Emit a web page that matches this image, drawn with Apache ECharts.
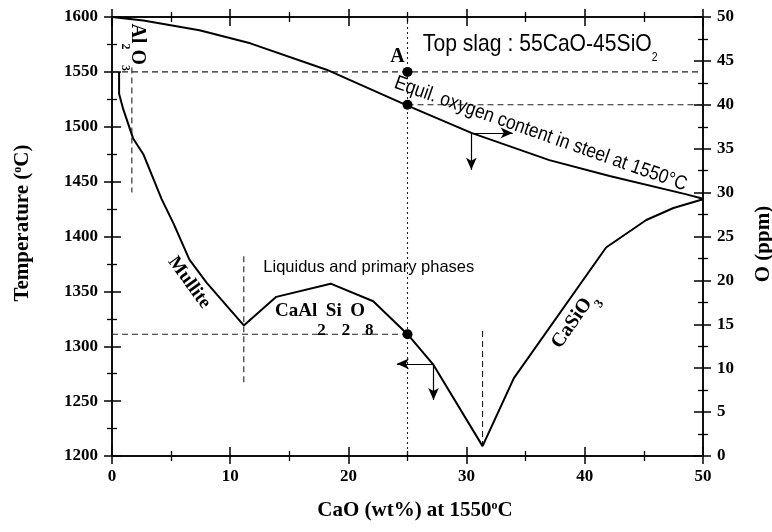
<!DOCTYPE html>
<html>
<head>
<meta charset="utf-8">
<script src="https://cdn.jsdelivr.net/npm/echarts@6/dist/echarts.min.js"></script>
<style>
  html, body { margin: 0; padding: 0; background: #fff; }
  #chart { width: 772px; height: 532px; }
</style>
</head>
<body>
<div id="chart"></div>
<script>
// Liquidus of the slag: CaO content (wt%) against liquidus temperature (°C)
const liquidusCaO = [0.6, 0.6, 0.95, 1.8, 2.65, 4.2, 5.2, 6.55, 8.0, 11.15, 13.9, 18.5, 22.1, 25.0, 27.2, 31.35, 34.0, 41.8, 45.2, 47.5, 50];
const liquidusT   = [1550, 1530, 1516, 1489, 1475, 1434, 1412, 1379, 1358, 1319, 1345, 1357, 1341, 1311, 1283, 1209, 1271, 1390, 1415, 1426, 1434];

// Equilibrium oxygen content in steel at 1550 °C (ppm)
const oxygenCaO = [0, 2.65, 7.4, 11.7, 18.15, 25, 30.4, 37, 42.1, 48.6, 50];
const oxygenPpm = [50, 49.6, 48.5, 47.0, 44.0, 39.9, 36.8, 33.7, 31.9, 29.8, 29.3];

// Tick values of the three scales
const caoTicks  = [0, 10, 20, 30, 40, 50];
const tempTicks = [1200, 1250, 1300, 1350, 1400, 1450, 1500, 1550, 1600];
const ppmTicks  = [0, 5, 10, 15, 20, 25, 30, 35, 40, 45, 50];

// Guide lines (temperature scale unless noted)
const guideT1550     = [[0, 1550], [50, 1550]];
const guideO40       = [[25, 40], [50, 40]];          // ppm scale
const guideAl2O3     = [[1.68, 1554], [1.68, 1440]];
const guideMullite   = [[11.15, 1382], [11.15, 1267]];
const guideT1311     = [[0, 1311], [25, 1311]];
const guideEutectic  = [[31.35, 1314], [31.35, 1210]];
const guideCaO25     = [[25, 1600], [25, 1200]];

// Marked states at 25 wt% CaO
const pointsT = [[25, 1550], [25, 1311]];
const pointsO = [[25, 40]];

// Reading arrows: start, horizontal end, vertical end
const arrowOxygen   = { start: [30.4, 36.8], xEnd: 33.9, yEnd: 32.6 };
const arrowLiquidus = { start: [27.2, 1284], xEnd: 24.1, yEnd: 1251 };

const serif = '"Liberation Serif", "Times New Roman", serif';
const sans  = '"Liberation Sans", Arial, sans-serif';
const ink = '#000';

const chart = echarts.init(document.getElementById('chart'), null, { renderer: 'canvas' });

function zip(xs, ys) { return xs.map((x, i) => [x, ys[i]]); }

function makeAxis(ticks, position, inside, extra) {
  return Object.assign({
    type: 'value',
    position: position,
    min: ticks[0],
    max: ticks[ticks.length - 1],
    interval: ticks[1] - ticks[0],
    axisLine: { show: true, onZero: false, lineStyle: { color: ink, width: 1.5 } },
    axisTick: { show: true, inside: inside, length: inside ? 9 : 8, lineStyle: { color: ink, width: 1.5 } },
    minorTick: { show: true, splitNumber: 2, length: 5, lineStyle: { color: ink, width: 1.3 } },
    axisLabel: { show: false },
    splitLine: { show: false },
    minorSplitLine: { show: false }
  }, extra || {});
}

const tickLabel = (margin) => ({
  show: true, margin: margin, color: ink,
  fontFamily: serif, fontWeight: 'bold', fontSize: 17,
  formatter: (v) => String(v)
});

const titleRich = {
  t:   { fontFamily: serif, fontWeight: 'bold', fontSize: 21, lineHeight: 22, color: ink },
  sup: { fontFamily: serif, fontWeight: 'bold', fontSize: 12, lineHeight: 12, verticalAlign: 'top', color: ink }
};

const guideStyle  = { color: '#222', width: 1.1, type: [6, 4] };
const dottedStyle = { color: '#222', width: 1.1, type: [2, 3] };

function guide(name, data, yIndex, style) {
  return {
    name: name, type: 'line', xAxisIndex: 0, yAxisIndex: yIndex,
    data: data, symbol: 'none', silent: true, z: 2,
    lineStyle: style
  };
}

function arrows(a) {
  return {
    silent: true,
    symbol: ['none', 'arrow'],
    symbolSize: [8, 12],
    lineStyle: { color: ink, width: 1.2, type: 'solid' },
    label: { show: false },
    emphasis: { disabled: true },
    data: [
      [{ coord: a.start }, { coord: [a.xEnd, a.start[1]] }],
      [{ coord: a.start }, { coord: [a.start[0], a.yEnd] }]
    ]
  };
}

chart.setOption({
  animation: false,
  backgroundColor: '#fff',
  grid: { left: 112, right: 69, top: 17, bottom: 76, containLabel: false, outerBoundsMode: 'none' },
  xAxis: [
    makeAxis(caoTicks, 'bottom', false, {
      axisLabel: tickLabel(12),
      name: '{t|CaO (wt%) at 1550}{sup|o}{t|C}',
      nameLocation: 'middle', nameGap: 44,
      nameTextStyle: { rich: titleRich, padding: [0, 0, 0, 15] }
    }),
    makeAxis(caoTicks, 'bottom', true),
    makeAxis(caoTicks, 'top', false),
    makeAxis(caoTicks, 'top', true)
  ],
  yAxis: [
    makeAxis(tempTicks, 'left', false, {
      axisLabel: tickLabel(14),
      name: '{t|Temperature (}{sup|o}{t|C)}',
      nameLocation: 'middle', nameRotate: 90, nameGap: 78,
      nameTextStyle: { rich: titleRich, padding: [0, 0, 0, 27] }
    }),
    makeAxis(tempTicks, 'left', true),
    makeAxis(ppmTicks, 'right', false, {
      axisLabel: tickLabel(14),
      name: '{t|O (ppm)}',
      nameLocation: 'middle', nameRotate: 90, nameGap: 50,
      nameTextStyle: { rich: titleRich, padding: [0, 15, 0, 0] }
    }),
    makeAxis(ppmTicks, 'right', true)
  ],
  series: [
    guide('T 1550', guideT1550, 0, guideStyle),
    guide('O 40', guideO40, 2, guideStyle),
    guide('Al2O3 limit', guideAl2O3, 0, guideStyle),
    guide('Mullite limit', guideMullite, 0, guideStyle),
    guide('T 1311', guideT1311, 0, guideStyle),
    guide('Eutectic', guideEutectic, 0, guideStyle),
    guide('CaO 25', guideCaO25, 0, dottedStyle),
    {
      name: 'Liquidus', type: 'line', xAxisIndex: 0, yAxisIndex: 0,
      data: zip(liquidusCaO, liquidusT), symbol: 'none', z: 3,
      lineStyle: { color: ink, width: 2 },
      markLine: arrows(arrowLiquidus)
    },
    {
      name: 'Equilibrium O', type: 'line', xAxisIndex: 0, yAxisIndex: 2,
      data: zip(oxygenCaO, oxygenPpm), symbol: 'none', z: 3,
      lineStyle: { color: ink, width: 2 },
      markLine: arrows(arrowOxygen)
    },
    {
      name: 'States T', type: 'scatter', xAxisIndex: 0, yAxisIndex: 0,
      data: pointsT, symbol: 'circle', symbolSize: 10, z: 4,
      itemStyle: { color: ink, opacity: 1 }
    },
    {
      name: 'States O', type: 'scatter', xAxisIndex: 0, yAxisIndex: 2,
      data: pointsO, symbol: 'circle', symbolSize: 10, z: 4,
      itemStyle: { color: ink, opacity: 1 }
    }
  ]
});

// Text annotations, anchored in data space
function at(x, y, yIndex) {
  return chart.convertToPixel({ xAxisIndex: 0, yAxisIndex: yIndex }, [x, y]);
}

function note(text, anchor, yIndex, opts) {
  const p = at(anchor[0], anchor[1], yIndex);
  return {
    type: 'text',
    x: p[0], y: p[1],
    rotation: opts.rotation || 0,
    scaleX: opts.scaleX || 1,
    z: 10,
    silent: true,
    style: Object.assign({
      text: text,
      fill: ink,
      align: opts.align || 'center',
      textAlign: opts.align || 'center',
      verticalAlign: 'middle',
      textVerticalAlign: 'middle'
    }, opts.style || {})
  };
}

const deg = Math.PI / 180;
const subRich = (family, weight, size, line, subSize) => ({
  m: { fontFamily: family, fontWeight: weight, fontSize: size, lineHeight: line, fill: ink },
  s: { fontFamily: family, fontWeight: weight, fontSize: subSize, lineHeight: subSize, verticalAlign: 'bottom', fill: ink }
});

chart.setOption({
  graphic: [
    note('{m|Top slag : 55CaO-45SiO}{s|2}', [26.3, 1575.2], 0, {
      align: 'left', scaleX: 0.88,
      style: { rich: subRich(sans, 'normal', 24, 38, 12) }
    }),
    note('A', [24.15, 1563.4], 0, {
      style: { fontFamily: serif, fontWeight: 'bold', fontSize: 20 }
    }),
    note('{m|Al}{s|2}{m|O}{s|3}', [2.1, 1572.5], 0, {
      rotation: -90 * deg,
      style: { rich: subRich(serif, 'bold', 20, 36, 12) }
    }),
    note('Equil. oxygen content in steel at 1550°C', [36.26, 36.69], 2, {
      rotation: -19.5 * deg, scaleX: 0.87,
      style: { fontFamily: sans, fontSize: 20 }
    }),
    note('Liquidus and primary phases', [12.8, 1371.7], 0, {
      align: 'left',
      style: { fontFamily: sans, fontSize: 16.5 }
    }),
    note('Mullite', [6.53, 1358], 0, {
      rotation: -54 * deg,
      style: { fontFamily: serif, fontWeight: 'bold', fontSize: 19 }
    }),
    note('{m|CaAl}{s|2}{m|Si}{s|2}{m|O}{s|8}', [13.8, 1332], 0, {
      align: 'left',
      style: { rich: subRich(serif, 'bold', 19, 55, 17) }
    }),
    note('{m|CaSiO}{s|3}', [39.07, 1323.4], 0, {
      rotation: 55 * deg,
      style: { rich: subRich(serif, 'bold', 20, 36, 13) }
    })
  ]
});
</script>
</body>
</html>
